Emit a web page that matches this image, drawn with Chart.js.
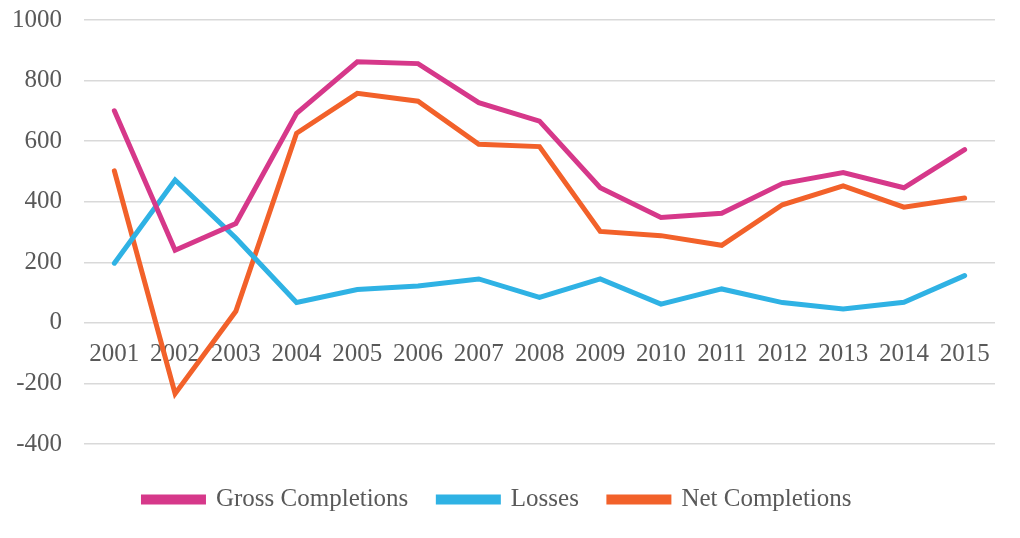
<!DOCTYPE html>
<html>
<head>
<meta charset="utf-8">
<script src="https://cdn.jsdelivr.net/npm/chart.js@4/dist/chart.umd.min.js"></script>
<style>
  html, body { margin: 0; padding: 0; background: #fff; }
  #wrap { width: 1020px; height: 538px; }
</style>
</head>
<body>
<div id="wrap"><canvas id="myChart"></canvas></div>
<script>
// datos
const years = ['2001', '2002', '2003', '2004', '2005', '2006', '2007', '2008', '2009', '2010', '2011', '2012', '2013', '2014', '2015'];
const gross = [700, 240, 328, 692, 862, 856, 727, 666, 446, 348, 362, 460, 496, 446, 572];
const losses = [197, 472, 280, 67, 110, 122, 145, 84, 145, 62, 112, 67, 46, 68, 156];
const net = [502, -234, 38, 626, 758, 732, 590, 582, 302, 288, 256, 390, 452, 382, 412];

const serif = "'Liberation Serif', 'Times New Roman', serif";
const gris = '#595959';

const serie = (label, data, color) => ({
    label,
    data,
    borderColor: color,
    backgroundColor: color,
    borderWidth: 5,
    pointRadius: 0,
    tension: 0,
    fill: false,
    borderCapStyle: 'round',
    borderJoinStyle: 'miter'
});

new Chart(document.getElementById('myChart'), {
    type: 'line',
    data: {
        labels: years,
        datasets: [
            serie('Gross Completions', gross, '#d6388a'),
            serie('Losses', losses, '#2fb2e4'),
            serie('Net Completions', net, '#f2612a')
        ]
    },
    options: {
        responsive: true,
        maintainAspectRatio: false,
        animation: false,
        layout: { padding: { top: 20, right: 25, left: 0, bottom: 16 } },
        scales: {
            x: {
                position: { y: 0 },
                offset: true,
                grid: { display: false, drawTicks: false },
                border: { display: false },
                ticks: {
                    color: gris,
                    font: { family: serif, size: 25 },
                    padding: 17,
                    maxRotation: 0,
                    autoSkip: false
                }
            },
            y: {
                min: -400,
                max: 1000,
                afterFit: s => {
                    s.width = 84;
                    s.paddingTop = 0;
                    s.paddingBottom = 0;
                },
                grid: { color: '#d9d9d9', lineWidth: 1.5, drawTicks: false },
                border: { display: false },
                ticks: {
                    stepSize: 200,
                    color: gris,
                    font: { family: serif, size: 25, lineHeight: 1 },
                    padding: 22,
                    callback: v => String(v)
                }
            }
        },
        plugins: {
            legend: {
                position: 'bottom',
                title: { display: true, text: ' ', padding: 0, font: { size: 5, lineHeight: 2.6 } },
                labels: {
                    color: gris,
                    font: { family: serif, size: 25 },
                    boxWidth: 60,
                    boxHeight: 5,
                    padding: 30
                }
            },
            tooltip: { enabled: false }
        }
    }
});
</script>
</body>
</html>
